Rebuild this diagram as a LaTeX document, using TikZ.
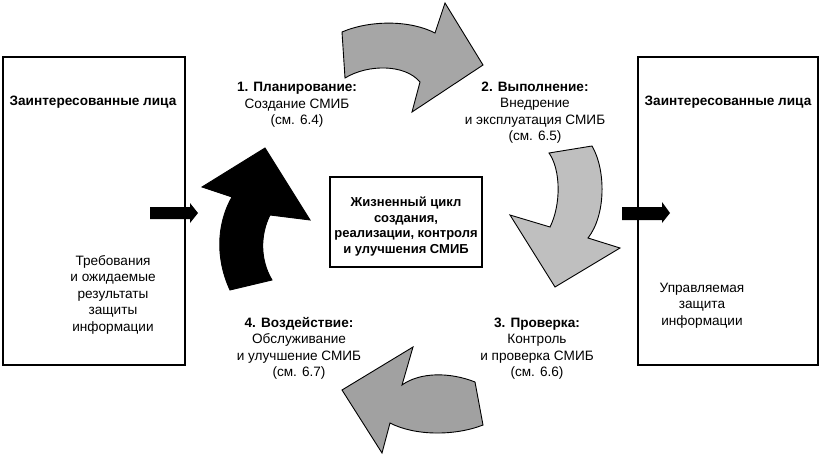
\documentclass[tikz,border=0pt]{standalone}
\usepackage{fontspec}
\setmainfont{Liberation Sans}
\begin{document}
\begin{tikzpicture}[x=1pt,y=-1pt,
  txt/.style={font=\fontsize{13.6}{16.5}\selectfont, align=center, inner sep=0pt},
  btxt/.style={txt, font=\fontsize{13.6}{16.5}\selectfont\bfseries},
  frame/.style={draw=black, line width=1.6pt, inner sep=0pt},
  bigarrow/.style={draw=black, line width=0.9pt, line join=miter},
  smallarrow/.style={fill=black, draw=none}]
\useasboundingbox (0,0) rectangle (821,458);
\fill[white] (0,0) rectangle (821,458);

% boxes
\node[frame, minimum width=182pt, minimum height=308pt] (L) at (94,211) {};
\node[frame, minimum width=180pt, minimum height=308pt] (R) at (728,211) {};
\node[frame, minimum width=152pt, minimum height=90pt] (C) at (406,222) {};

\node[btxt] (Lt) at (93,102) {Заинтересованные лица};
\node[btxt] (Rt) at (728,102) {Заинтересованные лица};
\node[txt] (Lx) at (113,294.5) {Требования\\и ожидаемые\\результаты\\защиты\\информации};
\node[txt] (Rx) at (702,305.5) {Управляемая\\защита\\информации};
\node[btxt, font=\fontsize{13}{15.6}\selectfont\bfseries] (Ct) at (406,226.5) {Жизненный цикл\\создания,\\реализации, контроля\\и улучшения СМИБ};

% labels
\node[txt] (P1) at (297,105) {\textbf{1. Планирование:}\\Создание СМИБ\\(см. 6.4)};
\node[txt] (P2) at (535,112.5) {\textbf{2. Выполнение:}\\Внедрение\\и эксплуатация СМИБ\\(см. 6.5)};
\node[txt] (P3) at (537,348.5) {\textbf{3. Проверка:}\\Контроль\\и проверка СМИБ\\(см. 6.6)};
\node[txt] (P4) at (299,348.5) {\textbf{4. Воздействие:}\\Обслуживание\\и улучшение СМИБ\\(см. 6.7)};

% small arrows
\fill[smallarrow] (150,207) -- (190,207) -- (190,203) -- (198,213) -- (190,223) -- (190,219) -- (150,219) -- cycle;
\fill[smallarrow] (622,207) -- (662,207) -- (662,202) -- (670,213) -- (662,223) -- (662,220) -- (622,220) -- cycle;

% big curved arrows
\filldraw[bigarrow, fill=black!35] (342,32) .. controls (370,20) and (410,20) .. (435,33)
  -- (445,3) -- (483,65) -- (412,112) -- (420,82)
  .. controls (405,64) and (368,64) .. (345,78) -- cycle;
\filldraw[bigarrow, fill=black!25] (549,153) -- (592,146)
  .. controls (606,170) and (606,215) .. (588,238)
  -- (620,248) -- (555,287) -- (510,215) -- (550,227)
  .. controls (561,205) and (561,170) .. (549,153) -- cycle;
\filldraw[bigarrow, fill=black!37] (475,382) .. controls (450,372) and (420,372) .. (402,385)
  -- (413,347) -- (342,390) -- (382,453) -- (390,423)
  .. controls (415,436) and (455,436) .. (483,425) -- cycle;
\filldraw[bigarrow, fill=black] (230,290) -- (272,280)
  .. controls (260,260) and (260,235) .. (270,215)
  -- (310,220) -- (265,148) -- (202,187) -- (232,197)
  .. controls (216,225) and (216,260) .. (230,290) -- cycle;
\end{tikzpicture}
\end{document}
